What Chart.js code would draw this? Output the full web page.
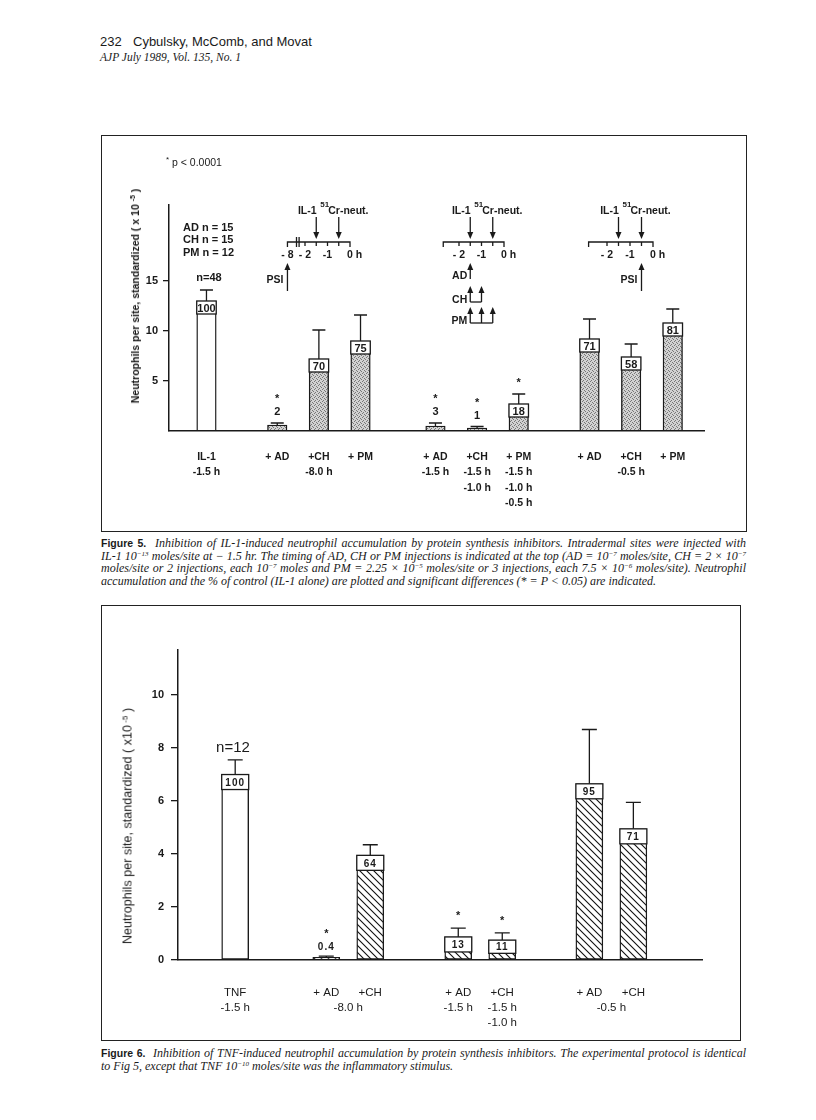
<!DOCTYPE html>
<html>
<head>
<meta charset="utf-8">
<script src="https://cdn.jsdelivr.net/npm/chart.js@4.4.1/dist/chart.umd.min.js"></script>
<style>
  body { margin: 0; background: #fff; }
  #page { position: relative; width: 816px; height: 1120px; overflow: hidden; color: #1a1a1a; }
  .t { position: absolute; white-space: nowrap; font-family: 'Liberation Sans', Arial, sans-serif; }
  .fig5 { font-family: 'Liberation Sans Narrow', 'Liberation Sans', Arial, sans-serif; font-weight: bold; font-size: 11px; line-height: 12px; }
  .box { position: absolute; border: 1.5px solid #222; box-sizing: border-box; }
  canvas { position: absolute; }
  .ytitle { transform: translate(-50%, -50%) rotate(-90deg); }
  .cap { position: absolute; left: 101px; width: 645px; font-family: 'Liberation Serif', 'Times New Roman', serif;
         font-style: italic; font-size: 12px; line-height: 12.6px; }
  .cap div { white-space: nowrap; text-align: justify; text-align-last: justify; }
  .cap div.last { text-align-last: left; }
  .cap b { font-family: 'Liberation Sans', Arial, sans-serif; font-style: normal; font-size: 10.5px; }
  sup { font-size: 7px; vertical-align: 4px; line-height: 0; }
</style>
</head>
<body>
<div id="page">
  <div class="t" style="left:100px; top:34px; font-size:13px; line-height:16px;">232</div>
  <div class="t" style="left:133px; top:34px; font-size:13px; line-height:16px;">Cybulsky, McComb, and Movat</div>
  <div class="t" style="left:100px; top:50px; font-size:11.5px; line-height:14px; font-family:'Liberation Serif', serif; font-style:italic;">AJP July 1989, Vol. 135, No. 1</div>

  <!-- Figure 5 -->
  <div class="box" style="left:101px; top:135px; width:646px; height:397px;"></div>
  <canvas id="fig5" width="646" height="397" style="left:101px; top:135px;"></canvas>
  <div class="t" style="left:166px; top:156px; font-size:10.5px; line-height:13px;"><sup style="font-size:8px;">*</sup> p &lt; 0.0001</div>
  <div class="t fig5" style="left:183px; top:221px;">AD n = 15</div>
  <div class="t fig5" style="left:183px; top:233px;">CH n = 15</div>
  <div class="t fig5" style="left:183px; top:246px;">PM n = 12</div>
  <div class="t fig5" style="left:209px; top:271px; transform:translateX(-50%);">n=48</div>
  <div class="t fig5 ytitle" style="left:135px; top:296px; font-size:10.5px;">Neutrophils per site, standardized ( x 10 <sup>-5</sup> )</div>

  <div class="cap" style="top:537px;">
    <div><b>Figure 5.</b>&nbsp; Inhibition of IL-1-induced neutrophil accumulation by protein synthesis inhibitors. Intradermal sites were injected with</div>
    <div>IL-1 10<sup>−13</sup> moles/site at − 1.5 hr. The timing of AD, CH or PM injections is indicated at the top (AD = 10<sup>−7</sup> moles/site, CH = 2 × 10<sup>−7</sup></div>
    <div>moles/site or 2 injections, each 10<sup>−7</sup> moles and PM = 2.25 × 10<sup>−5</sup> moles/site or 3 injections, each 7.5 × 10<sup>−6</sup> moles/site). Neutrophil</div>
    <div class="last">accumulation and the % of control (IL-1 alone) are plotted and significant differences (* = P &lt; 0.05) are indicated.</div>
  </div>

  <!-- Figure 6 -->
  <div class="box" style="left:101px; top:605px; width:640px; height:436px;"></div>
  <canvas id="fig6" width="640" height="436" style="left:101px; top:605px;"></canvas>
  <div class="t" style="left:233px; top:738px; font-size:15px; line-height:18px; transform:translateX(-50%);">n=12</div>
  <div class="t ytitle" style="left:128px; top:826px; font-size:12.6px; line-height:15px;">Neutrophils per site, standardized ( x10<sup style="font-size:8px;"> -5</sup> )</div>

  <div class="cap" style="top:1047px;">
    <div><b>Figure 6.</b>&nbsp; Inhibition of TNF-induced neutrophil accumulation by protein synthesis inhibitors. The experimental protocol is identical</div>
    <div class="last">to Fig 5, except that TNF 10<sup>−10</sup> moles/site was the inflammatory stimulus.</div>
  </div>
</div>

<script>
// ─── Figure 5 data (IL-1) ────────────────────────────────────────
const F5_LABELS = [
  ['IL-1', '-1.5 h'], ['+ AD'], ['+CH', '-8.0 h'], ['+ PM'],
  ['+ AD', '-1.5 h'], ['+CH', '-1.5 h', '-1.0 h'], ['+ PM', '-1.5 h', '-1.0 h', '-0.5 h'],
  ['+ AD'], ['+CH', '-0.5 h'], ['+ PM']
];
const F5_MEAN = [13.0, 0.6, 7.2, 9.0, 0.5, 0.3, 2.7, 9.2, 7.4, 10.8];
const F5_ERR  = [1.1, 0.2, 2.9, 2.6, 0.3, 0.15, 1.0, 2.0, 1.3, 1.4];
const F5_PCT  = ['100', '2', '70', '75', '3', '1', '18', '71', '58', '81'];
const F5_SIG  = [false, true, false, false, true, true, true, false, false, false];
const F5_YTICKS = [5, 10, 15];

// injection schedule (hours before sacrifice)
const IL1_HOUR = -1.5;
const CR_HOUR = -0.5;
const AD_HOURS = [-1.5];
const CH_HOURS = [-1.5, -1.0];
const PM_HOURS = [-1.5, -1.0, -0.5];

// ─── Figure 6 data (TNF) ─────────────────────────────────────────
const F6_LABELS = ['TNF', '+ AD', '+CH', '+ AD', '+CH', '+ AD', '+CH'];
const F6_MEAN = [7.0, 0.1, 3.95, 0.87, 0.75, 6.65, 4.95];
const F6_ERR  = [0.55, 0.05, 0.4, 0.33, 0.27, 2.05, 1.0];
const F6_PCT  = ['100', '0.4', '64', '13', '11', '95', '71'];
const F6_SIG  = [false, true, false, true, true, false, false];
const F6_YTICKS = [0, 2, 4, 6, 8, 10];
const F6_TIMES = [
  { bars: [0], lines: ['-1.5 h'] },
  { bars: [1, 2], lines: ['-8.0 h'] },
  { bars: [3], lines: ['-1.5 h'] },
  { bars: [4], lines: ['-1.5 h', '-1.0 h'] },
  { bars: [5, 6], lines: ['-0.5 h'] }
];

// ─── layout (bar slots along the x axis) ─────────────────────────
const F5_SLOT = [1, 2.7, 3.7, 4.7, 6.5, 7.5, 8.5, 10.2, 11.2, 12.2];
const F6_SLOT = [1, 3.07, 4.07, 6.07, 7.07, 9.05, 10.05];

const INK = '#1a1a1a';
const NARROW = "'Liberation Sans Narrow', 'Liberation Sans', Arial, sans-serif";
const SANS = "'Liberation Sans', Arial, sans-serif";

function stipple() {
  const c = document.createElement('canvas');
  c.width = 4; c.height = 4;
  const g = c.getContext('2d');
  g.fillStyle = '#d2d2d2'; g.fillRect(0, 0, 4, 4);
  g.fillStyle = '#777';
  [[0, 0], [2, 1], [1, 2], [3, 3]].forEach(([x, y]) => g.fillRect(x, y, 1, 1));
  return g.createPattern(c, 'repeat');
}

function hatch() {
  const c = document.createElement('canvas');
  c.width = 7; c.height = 7;
  const g = c.getContext('2d');
  g.fillStyle = '#fff'; g.fillRect(0, 0, 7, 7);
  g.strokeStyle = '#111'; g.lineWidth = 1.1;
  g.beginPath();
  g.moveTo(-1, -1); g.lineTo(8, 8);
  g.moveTo(-1, 6); g.lineTo(1, 8);
  g.moveTo(6, -1); g.lineTo(8, 1);
  g.stroke();
  return g.createPattern(c, 'repeat');
}

// error bars, % of control boxes and significance stars
const barNotes = {
  id: 'barNotes',
  afterDatasetsDraw(chart, args, o) {
    const { ctx, scales: { y } } = chart;
    chart.getDatasetMeta(0).data.forEach((bar, i) => {
      const half = bar.width / 2;
      const top = bar.y;
      const h = bar.base - top;
      const errTop = y.getPixelForValue(o.mean[i] + o.err[i]);
      ctx.save();
      ctx.strokeStyle = INK; ctx.fillStyle = INK; ctx.lineWidth = 1.3;
      ctx.beginPath();
      ctx.moveTo(bar.x, top); ctx.lineTo(bar.x, errTop);
      ctx.moveTo(bar.x - o.cap / 2, errTop); ctx.lineTo(bar.x + o.cap / 2, errTop);
      ctx.stroke();
      ctx.font = o.font;
      if (o.spacing) ctx.letterSpacing = o.spacing;
      ctx.textAlign = 'center'; ctx.textBaseline = 'middle';
      let starY;
      if (h > o.boxH + 4) {
        const bh = Math.min(o.boxH, h - 6);
        ctx.fillStyle = '#fff';
        ctx.fillRect(bar.x - half, top, bar.width, bh);
        ctx.strokeRect(bar.x - half, top, bar.width, bh);
        ctx.fillStyle = INK;
        ctx.fillText(o.pct[i], bar.x, top + bh / 2 + 1);
        starY = errTop - o.starGap;
      } else {
        ctx.fillText(o.pct[i], bar.x, errTop - o.textGap);
        starY = errTop - o.textGap - o.starGap2;
      }
      ctx.letterSpacing = '0px';
      if (o.sig[i]) { ctx.font = o.starFont; ctx.fillText('*', bar.x, starY); }
      ctx.restore();
    });
  }
};

// ─── Figure 5 protocol timelines (page coordinates) ──────────────
const F5_CANVAS = { left: 101, top: 135 };
const TL_Y = 242;
const TL_TICKS = [-2, -1.5, -1, -0.5];
const TIMELINES = [
  { zero: 350, ph: 22.5, from: -8, labels: [-8, -2, -1], psi: -8 },
  { zero: 504, ph: 22.5, from: -2.7, labels: [-2, -1], schedule: true },
  { zero: 653, ph: 23, from: -2.8, labels: [-2, -1], psi: -0.5 }
];
const SCHEDULE = [
  { name: 'AD', hours: AD_HOURS, tip: 263, bottom: 279, ty: 276 },
  { name: 'CH', hours: CH_HOURS, tip: 286, bottom: 302, ty: 300 },
  { name: 'PM', hours: PM_HOURS, tip: 307, bottom: 323, ty: 321 }
];

function arrow(ctx, x, from, tip) {
  const dir = tip > from ? 1 : -1;
  ctx.beginPath(); ctx.moveTo(x, from); ctx.lineTo(x, tip - dir * 5); ctx.stroke();
  ctx.beginPath();
  ctx.moveTo(x - 3, tip - dir * 7); ctx.lineTo(x + 3, tip - dir * 7); ctx.lineTo(x, tip);
  ctx.closePath(); ctx.fill();
}

function drawTimeline(ctx, t) {
  const X = h => (h <= -3 ? t.zero - 2.78 * t.ph : t.zero + h * t.ph);
  const y = TL_Y;
  const font = `bold 10.5px ${NARROW}`;
  ctx.beginPath();
  ctx.moveTo(X(t.from), y + 5); ctx.lineTo(X(t.from), y);
  ctx.lineTo(t.zero, y); ctx.lineTo(t.zero, y + 5);
  TL_TICKS.forEach(h => { ctx.moveTo(X(h), y); ctx.lineTo(X(h), y + 4); });
  ctx.stroke();
  if (t.from <= -3) {
    const bx = t.zero - 2.32 * t.ph;
    ctx.beginPath();
    ctx.moveTo(bx - 1.3, y - 5); ctx.lineTo(bx - 1.3, y + 5);
    ctx.moveTo(bx + 1.3, y - 5); ctx.lineTo(bx + 1.3, y + 5);
    ctx.stroke();
  }
  ctx.font = font; ctx.textBaseline = 'middle'; ctx.textAlign = 'center';
  t.labels.forEach(h => ctx.fillText(h <= -2 ? '- ' + Math.abs(h) : String(h), X(h), y + 13));
  ctx.textAlign = 'left';
  ctx.fillText('0 h', t.zero - 3, y + 13);

  arrow(ctx, X(IL1_HOUR), 217, y - 3);
  arrow(ctx, X(CR_HOUR), 217, y - 3);
  ctx.textAlign = 'center';
  ctx.fillText('IL-1', X(IL1_HOUR) - 9, 211);
  ctx.textAlign = 'left';
  ctx.font = `bold 8px ${NARROW}`;
  ctx.fillText('51', X(IL1_HOUR) + 4, 205);
  ctx.font = font;
  ctx.fillText('Cr-neut.', X(IL1_HOUR) + 12, 211);

  ctx.textAlign = 'right';
  if (t.psi !== undefined) {
    arrow(ctx, X(t.psi), 291, 263);
    ctx.fillText('PSI', X(t.psi) - 4, 280);
  }
  if (t.schedule) {
    SCHEDULE.forEach(s => {
      s.hours.forEach(h => arrow(ctx, X(h), s.bottom, s.tip));
      if (s.hours.length > 1) {
        ctx.beginPath();
        ctx.moveTo(X(s.hours[0]), s.bottom); ctx.lineTo(X(s.hours[s.hours.length - 1]), s.bottom);
        ctx.stroke();
      }
      ctx.fillText(s.name, X(s.hours[0]) - 3, s.ty);
    });
  }
}

const timelines = {
  id: 'timelines',
  afterDraw(chart) {
    const ctx = chart.ctx;
    ctx.save();
    ctx.translate(-F5_CANVAS.left, -F5_CANVAS.top);
    ctx.strokeStyle = INK; ctx.fillStyle = INK; ctx.lineWidth = 1.3;
    TIMELINES.forEach(t => drawTimeline(ctx, t));
    ctx.restore();
  }
};

// time annotations under grouped bars (figure 6)
const timeNotes = {
  id: 'timeNotes',
  afterDraw(chart, args, o) {
    const { ctx, scales: { x, y } } = chart;
    ctx.save();
    ctx.fillStyle = INK; ctx.font = o.font;
    ctx.textAlign = 'center'; ctx.textBaseline = 'middle';
    o.notes.forEach(n => {
      const cx = n.bars.reduce((s, b) => s + x.getPixelForValue(o.slot[b]), 0) / n.bars.length;
      n.lines.forEach((l, k) => ctx.fillText(l, cx, y.bottom + o.offset + k * o.lineHeight));
    });
    ctx.restore();
  }
};

function axisOpts(width) {
  return {
    border: { display: true, color: INK, width: 1.5 },
    afterFit: s => { s.width = width; }
  };
}

// ─── Figure 5 chart ──────────────────────────────────────────────
const dots = stipple();
new Chart(document.getElementById('fig5').getContext('2d'), {
  type: 'bar',
  data: {
    datasets: [{
      data: F5_MEAN.map((v, i) => ({ x: F5_SLOT[i], y: v })),
      backgroundColor: F5_MEAN.map((v, i) => (i === 0 ? '#fff' : dots)),
      borderColor: INK,
      borderWidth: 1.4,
      borderSkipped: false,
      barThickness: 19.5
    }]
  },
  options: {
    responsive: false,
    animation: false,
    layout: { padding: { top: 70, right: 43, left: 0, bottom: 0 } },
    plugins: {
      legend: { display: false },
      tooltip: { enabled: false },
      barNotes: {
        mean: F5_MEAN, err: F5_ERR, pct: F5_PCT, sig: F5_SIG,
        boxH: 13, cap: 13, textGap: 11, starGap: 11, starGap2: 13,
        font: `bold 11px ${NARROW}`, starFont: `bold 11px ${SANS}`
      }
    },
    scales: {
      x: {
        type: 'linear', min: 0.1, max: 12.95, offset: false,
        afterBuildTicks: s => { s.ticks = F5_SLOT.map(v => ({ value: v })); },
        ticks: {
          callback: (v, i) => F5_LABELS[i],
          autoSkip: false, maxRotation: 0, padding: 10, color: INK,
          font: { family: NARROW, size: 10.5, weight: 'bold', lineHeight: 1.48 }
        },
        grid: { display: false },
        border: { display: true, color: INK, width: 1.5 },
        afterFit: s => { s.height = 101; }
      },
      y: {
        min: 0, max: 22.6,
        afterBuildTicks: s => { s.ticks = F5_YTICKS.map(v => ({ value: v })); },
        ticks: { color: INK, padding: 5, font: { family: NARROW, size: 11, weight: 'bold' } },
        grid: { drawOnChartArea: false, drawTicks: true, tickLength: 6, color: INK, lineWidth: 1.3 },
        ...axisOpts(68)
      }
    }
  },
  plugins: [barNotes, timelines]
});

// ─── Figure 6 chart ──────────────────────────────────────────────
const lines = hatch();
new Chart(document.getElementById('fig6').getContext('2d'), {
  type: 'bar',
  data: {
    datasets: [{
      data: F6_MEAN.map((v, i) => ({ x: F6_SLOT[i], y: v })),
      backgroundColor: F6_MEAN.map((v, i) => (i === 0 ? '#fff' : lines)),
      borderColor: INK,
      borderWidth: 1.4,
      borderSkipped: false,
      barThickness: 27
    }]
  },
  options: {
    responsive: false,
    animation: false,
    layout: { padding: { top: 45, right: 39, left: 0, bottom: 0 } },
    plugins: {
      legend: { display: false },
      tooltip: { enabled: false },
      barNotes: {
        mean: F6_MEAN, err: F6_ERR, pct: F6_PCT, sig: F6_SIG,
        boxH: 15, cap: 15, textGap: 9, starGap: 12, starGap2: 13,
        font: `bold 10px ${SANS}`, spacing: '1px', starFont: `bold 11px ${SANS}`
      },
      timeNotes: {
        notes: F6_TIMES, slot: F6_SLOT, offset: 48, lineHeight: 15,
        font: `11.5px ${SANS}`
      }
    },
    scales: {
      x: {
        type: 'linear', min: -0.3, max: 11.61, offset: false,
        afterBuildTicks: s => { s.ticks = F6_SLOT.map(v => ({ value: v })); },
        ticks: {
          callback: (v, i) => F6_LABELS[i],
          autoSkip: false, maxRotation: 0, padding: 17, color: INK,
          font: { family: SANS, size: 11.5, lineHeight: 1.3 }
        },
        grid: { display: false },
        border: { display: true, color: INK, width: 1.5 },
        afterFit: s => { s.height = 81; }
      },
      y: {
        min: 0, max: 11.7,
        afterBuildTicks: s => { s.ticks = F6_YTICKS.map(v => ({ value: v })); },
        ticks: { color: INK, padding: 7, font: { family: SANS, size: 11, weight: 'bold' } },
        grid: { drawOnChartArea: false, drawTicks: true, tickLength: 7, color: INK, lineWidth: 1.3 },
        ...axisOpts(77)
      }
    }
  },
  plugins: [barNotes, timeNotes]
});
</script>
</body>
</html>
